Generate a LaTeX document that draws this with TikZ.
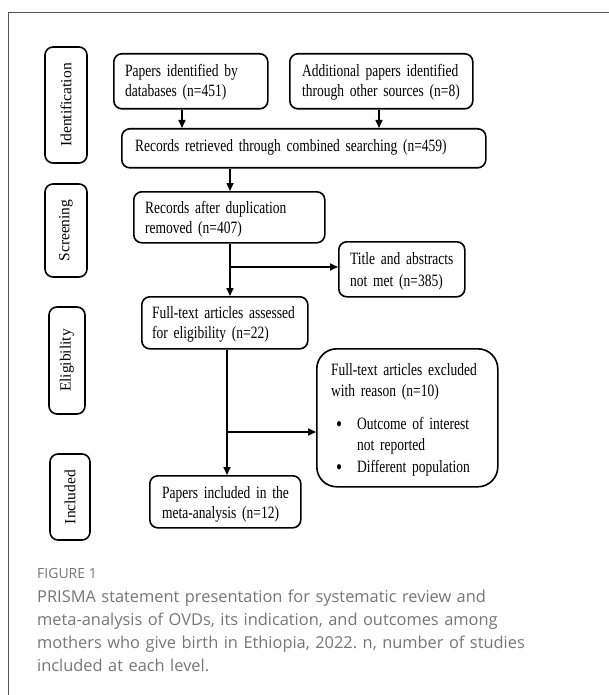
\documentclass[tikz,border=0pt]{standalone}
\usepackage{fontspec}
\setmainfont{Liberation Serif}
\newfontfamily\boxfont[FakeStretch=0.78]{Liberation Serif}
\newfontfamily\capfont{Open Sans}
\usetikzlibrary{arrows.meta,calc}
\definecolor{capgray}{HTML}{767676}
\definecolor{framegray}{HTML}{555555}
\frenchspacing
\newcommand{\bigbul}{\raisebox{-2.2pt}{\fontsize{22}{20}\selectfont\textbullet}}
\begin{document}
\begin{tikzpicture}[x=1pt,y=-1pt,
  pbox/.style={draw, line width=1.6pt, rounded corners=8pt, inner sep=0pt, anchor=north west},
  sbox/.style={draw, line width=1.6pt, rounded corners=8pt, inner sep=0pt, rotate=90, font=\fontsize{15.5}{18}\selectfont},
  btext/.style={anchor=base west, inner sep=0pt, text width=#1, align=left, font=\boxfont\fontsize{17.3}{20}\selectfont},
  arr/.style={line width=1.6pt, -{Triangle[length=8pt,width=7pt]}},
  ln/.style={line width=1.6pt},
  frame/.style={draw=framegray, line width=1pt}]
\useasboundingbox (0,0) rectangle (609,695);

% frame (cropped: top and left edges only)
\draw[frame] (8,695) -- (8,13) -- (609,13);

% stage labels
\node[sbox, minimum width=116pt, minimum height=42pt] (ident) at (66,105) {Identification};
\node[sbox, minimum width=93pt, minimum height=42pt] (screen) at (66,230.5) {Screening};
\node[sbox, minimum width=107pt, minimum height=36pt] (elig) at (67,360.5) {Eligibility};
\node[sbox, minimum width=86pt, minimum height=40pt] (incl) at (70,497) {Included};

% boxes
\node[pbox, minimum width=154pt, minimum height=55pt] (pap) at (113,53) {};
\node[pbox, minimum width=183pt, minimum height=55pt] (add) at (289,53) {};
\node[pbox, minimum width=364pt, minimum height=39pt] (rec) at (121,128) {};
\node[pbox, minimum width=191pt, minimum height=51pt] (dup) at (133,191) {};
\node[pbox, minimum width=126pt, minimum height=55pt] (title) at (338,241) {};
\node[pbox, minimum width=166pt, minimum height=52pt] (full) at (141,296) {};
\node[pbox, minimum width=181pt, minimum height=138pt, rounded corners=20pt] (excl) at (316,348) {};
\node[pbox, minimum width=151pt, minimum height=52pt] (inc) at (149,475) {};

% box texts
\node[btext=150pt] (papt) at (125,77) {Papers identified by\\databases (n=451)};
\node[btext=175pt] (addt) at (302,77) {Additional papers identified\\through other sources (n=8)};
\node[btext=350pt] (rect) at (135,152) {Records retrieved through combined searching (n=459)};
\node[btext=180pt] (dupt) at (145,213) {Records after duplication\\removed (n=407)};
\node[btext=120pt, font=\boxfont\fontsize{17.3}{22}\selectfont] (titlet) at (350,264) {Title and abstracts\\not met (n=385)};
\node[btext=160pt] (fullt) at (152,318) {Full-text articles assessed\\for eligibility (n=22)};
\node[btext=170pt, font=\boxfont\fontsize{17.3}{21.5}\selectfont] (exclt) at (331,375)
  {Full-text articles excluded\\with reason (n=10)\\[11pt]
   \makebox[26pt][l]{\hspace{5pt}\bigbul}Outcome of interest\\
   \hspace*{26pt}not reported\\
   \makebox[26pt][l]{\hspace{5pt}\bigbul}Different population};
\node[btext=145pt] (inct) at (162,498) {Papers included in the\\meta-analysis (n=12)};

% connectors
\coordinate (c1) at (182,0);
\coordinate (c2) at (379,0);
\coordinate (c3) at (230,0);
\coordinate (c4) at (227,0);
\coordinate (j1) at (230,267);
\coordinate (j2) at (227,432);
\draw[arr] (c1 |- pap.south) -- (c1 |- rec.north);
\draw[arr] (c2 |- add.south) -- (c2 |- rec.north);
\draw[arr] (c3 |- rec.south) -- (c3 |- dup.north);
\draw[arr] (c3 |- dup.south) -- (c3 |- full.north);
\draw[arr] (j1) -- (j1 -| title.west);
\draw[arr] (c4 |- full.south) -- (c4 |- inc.north);
\draw[arr] (j2) -- (j2 -| excl.west);

% caption
\node[anchor=base west, inner sep=0pt, text=capgray, font=\capfont\fontsize{14}{16}\selectfont] (figlabel) at (37,578) {FIGURE 1};
\node[anchor=base west, inner sep=0pt, text width=570pt, align=left, text=capgray, font=\capfont\fontsize{16.4}{23.3}\selectfont] (caption) at (37,602)
  {PRISMA statement presentation for systematic review and\\
   meta-analysis of OVDs, its indication, and outcomes among\\
   mothers who give birth in Ethiopia, 2022. n, number of studies\\
   included at each level.};
\end{tikzpicture}
\end{document}
